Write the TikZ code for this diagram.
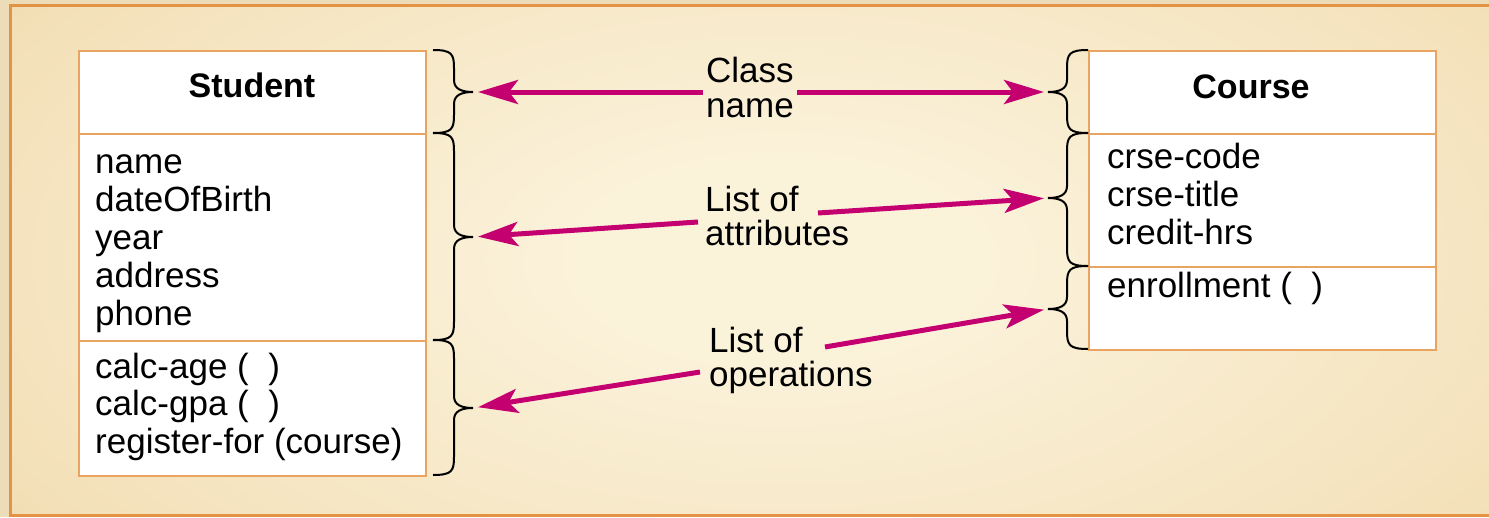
\documentclass[tikz,border=0pt]{standalone}
\usepackage{fontspec}
\setmainfont{Liberation Sans}
\usetikzlibrary{arrows.meta}

\definecolor{paper}{RGB}{236,220,184}
\definecolor{frameorange}{RGB}{228,146,68}
\definecolor{boxline}{RGB}{232,164,96}
\definecolor{glowC}{RGB}{251,242,218}
\definecolor{glowM}{RGB}{243,224,184}
\definecolor{glowE}{RGB}{223,188,128}
\definecolor{arrowpink}{RGB}{196,0,112}

% soft light spot in the middle of the panel
\pgfdeclareradialshading{panelglow}{\pgfpoint{0bp}{0bp}}{%
  color(0bp)=(glowC); color(5bp)=(glowC); color(22bp)=(glowM);
  color(40bp)=(glowE); color(50bp)=(glowE)}

% curly brace: #1 end x, #2 spine x, #3 tip x, #4 top y, #5 tip y, #6 bottom y
\newcommand\umlbrace[6]{%
  \draw[bracepen] (#1,#4)
    .. controls ({#2+0.1*(#1-#2)},#4) and (#2,{#4+4}) .. (#2,{#4+18})
    -- (#2,{#5-12})
    .. controls (#2,{#5-3}) and ({#2+0.4*(#3-#2)},#5) .. (#3,#5)
    .. controls ({#2+0.4*(#3-#2)},#5) and (#2,{#5+3}) .. (#2,{#5+12})
    -- (#2,{#6-18})
    .. controls (#2,{#6-4}) and ({#2+0.1*(#1-#2)},#6) .. (#1,#6);}

\begin{document}
\begin{tikzpicture}[x=1pt,y=-1pt,
  umlbox/.style={draw=boxline, line width=1.6pt, fill=white, inner sep=0pt,
    anchor=north west, minimum width=347pt},
  txt/.style={anchor=base west, inner sep=0pt, font=\fontsize{35}{40}\selectfont},
  classtitle/.style={anchor=base, inner sep=0pt, font=\fontsize{34}{40}\selectfont\bfseries},
  bracepen/.style={line width=2pt, black},
  pointer/.style={draw=arrowpink, line width=5pt,
    -{Stealth[length=40pt,width=24pt,inset=9pt]}}]

\useasboundingbox (0,0) rectangle (1489,517);
\fill[paper] (0,0) rectangle (1489,517);

% panel
\begin{scope}
  \clip (10,5) rectangle (1495,515);
  \shade[shading=panelglow] (-220,-240) rectangle (1780,760);
\end{scope}
\draw[frameorange, line width=3pt] (10,5) rectangle (1495,515);

% Student class
\node[umlbox, minimum height=83pt]  (stuHead) at (78,50) {};
\node[umlbox, minimum height=207pt] (stuAttr) at (78,133) {};
\node[umlbox, minimum height=135pt] (stuOps)  at (78,340) {};
\node[classtitle] (stuName) at (252,97) {Student};
\foreach \t [count=\i] in {name,dateOfBirth,year,address,phone}
  \node[txt] (sa\i) at (95,{173+38*(\i-1)}) {\t};
\node[txt] (so1) at (95,378) {calc-age (\ \ )};
\node[txt] (so2) at (95,415.5) {calc-gpa (\ \ )};
\node[txt] (so3) at (95,453) {register-for (course)};

% Course class
\node[umlbox, minimum height=83pt] (crsHead) at (1088,50) {};
\node[umlbox, minimum height=133pt] (crsAttr) at (1088,133) {};
\node[umlbox, minimum height=83pt] (crsOps)  at (1088,266) {};
\node[classtitle] (crsName) at (1251,98) {Course};
\node[txt] (ca1) at (1107,168) {crse-code};
\node[txt] (ca2) at (1107,206) {crse-title};
\node[txt] (ca3) at (1107,244) {credit-hrs};
\node[txt] (co1) at (1107,297) {enrollment (\ \ )};

% braces
\umlbrace{433}{454}{473}{50}{92}{133}
\umlbrace{433}{454}{473}{133}{237}{340}
\umlbrace{433}{454}{473}{340}{408}{475}
\umlbrace{1088}{1067}{1048}{50}{92}{133}
\umlbrace{1088}{1067}{1048}{133}{198}{266}
\umlbrace{1088}{1067}{1048}{266}{309}{349}
\coordinate (sb1) at (473,92);
\coordinate (sb2) at (473,237);
\coordinate (sb3) at (473,408);
\coordinate (cb1) at (1048,92);
\coordinate (cb2) at (1048,198);
\coordinate (cb3) at (1048,309);

% labels
\node[txt] (lblA1) at (706,82)  {Class};
\node[txt] (lblA2) at (706,117) {name};
\node[txt] (lblB1) at (705,211) {List of};
\node[txt] (lblB2) at (705,245) {attributes};
\node[txt] (lblC1) at (709,352) {List of};
\node[txt] (lblC2) at (709,386) {operations};

\coordinate (aL) at (703,92);
\coordinate (aR) at (797,92);
\coordinate (bL) at (698,222);
\coordinate (bR) at (818,213);
\coordinate (cL) at (700,372);
\coordinate (cR) at (825,347);

% pointers
\draw[pointer, shorten >=5pt] (aL) -- (sb1);
\draw[pointer, shorten >=4pt] (aR) -- (cb1);
\draw[pointer, shorten >=5pt] (bL) -- (sb2);
\draw[pointer, shorten >=4pt] (bR) -- (cb2);
\draw[pointer, shorten >=5pt] (cL) -- (sb3);
\draw[pointer, shorten >=4pt] (cR) -- (cb3);
\end{tikzpicture}
\end{document}
